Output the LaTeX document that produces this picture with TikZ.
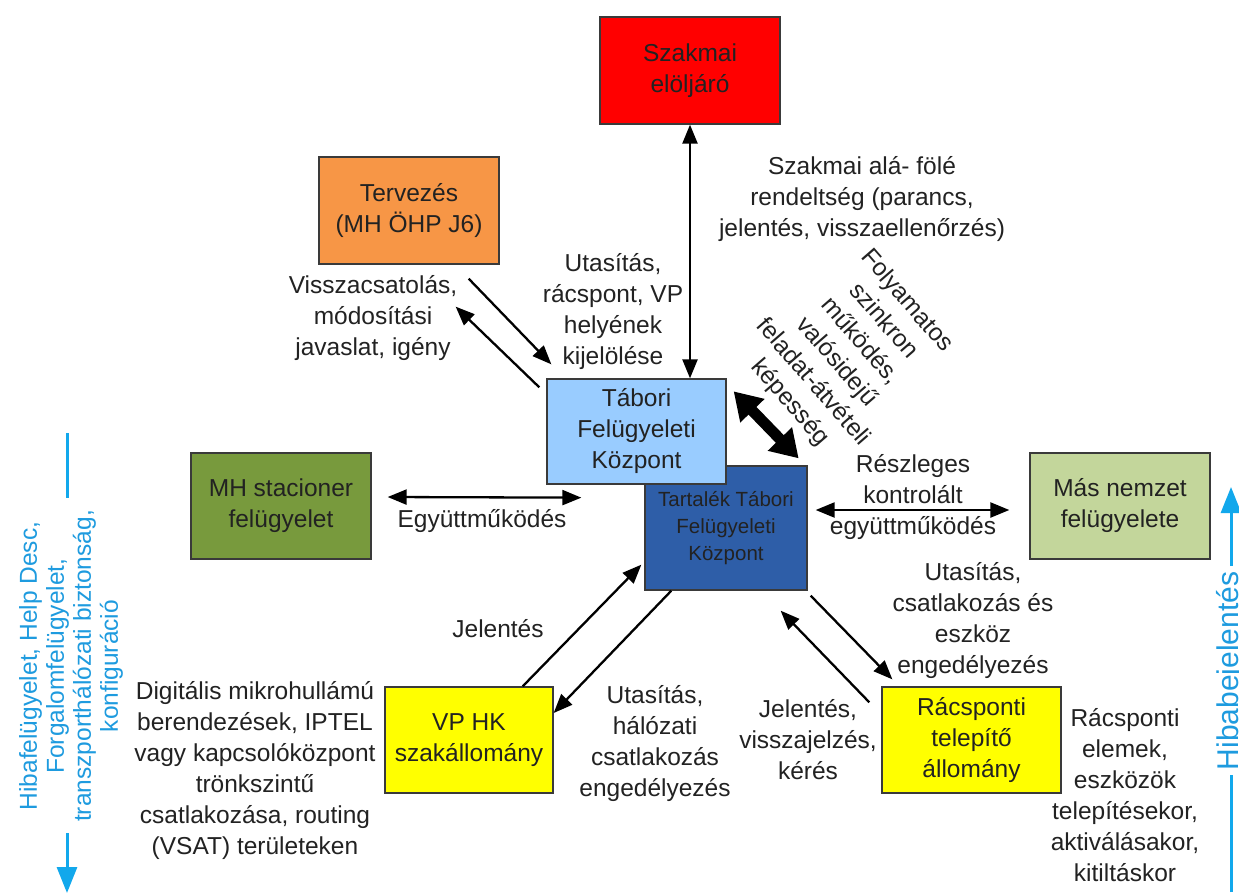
\documentclass[tikz,border=0pt]{standalone}
\usepackage{fontspec}
\setmainfont{Liberation Sans}
\usetikzlibrary{arrows.meta,calc}
\definecolor{ink}{HTML}{222222}
\definecolor{edge}{HTML}{3A3A3A}
\definecolor{cred}{HTML}{FF0000}
\definecolor{corange}{HTML}{F79646}
\definecolor{clight}{HTML}{99CCFF}
\definecolor{cdark}{HTML}{2E5EA8}
\definecolor{colive}{HTML}{789A3D}
\definecolor{cpale}{HTML}{C3D69B}
\definecolor{cyellow}{HTML}{FFFF00}
\definecolor{cyan}{HTML}{12A8EC}
\definecolor{cyantext}{HTML}{1E9BDF}
\tikzset{
  txt/.style={align=center, inner sep=0pt, text=ink, font=\fontsize{24.5}{31}\selectfont},
  box/.style={txt, draw=edge, line width=1.3pt},
  arr/.style={line width=2.3pt, -{Triangle[length=19pt,width=15pt]}},
  darr/.style={line width=2.3pt, {Triangle[length=19pt,width=15pt]}-{Triangle[length=19pt,width=15pt]}},
  bigdarr/.style={line width=11pt, {Triangle[length=27pt,width=32pt]}-{Triangle[length=27pt,width=32pt]}},
  blueline/.style={draw=cyan, line width=3pt},
  bluearr/.style={blueline, -{Triangle[length=26pt,width=20pt]}},
  bluetxt/.style={align=center, inner sep=0pt, text=cyantext}
}
\begin{document}
\begin{tikzpicture}[x=1pt,y=-1pt]
\fill[white] (0,0) rectangle (1239,892);
\useasboundingbox (0,0) rectangle (1239,892);

% boxes (the reserve centre lies beneath the main one)
\node[box, fill=cdark, minimum width=162pt, minimum height=124pt,
      font=\fontsize{20.5}{27}\selectfont] (tartalek) at (726,528)
      {Tartalék Tábori\\Felügyeleti\\Központ};
\node[box, fill=clight, minimum width=179pt, minimum height=105pt] (tabori) at (636.5,431.5)
      {Tábori\\Felügyeleti\\Központ};
\node[box, fill=cred, minimum width=180pt, minimum height=107pt] (red) at (690,70.5)
      {Szakmai\\elöljáró};
\node[box, fill=corange, minimum width=180pt, minimum height=107pt] (terv) at (409,210.5)
      {Tervezés\\(MH ÖHP J6)};
\node[box, fill=colive, minimum width=180pt, minimum height=106pt] (mh) at (281,506)
      {MH stacioner\\felügyelet};
\node[box, fill=cpale, minimum width=180pt, minimum height=106pt] (mas) at (1120,506)
      {Más nemzet\\felügyelete};
\node[box, fill=cyellow, minimum width=168pt, minimum height=106pt] (vphk) at (469,740)
      {VP HK\\szakállomány};
\node[box, fill=cyellow, minimum width=179pt, minimum height=106pt] (racs) at (971.5,740)
      {Rácsponti\\telepítő\\állomány};

% labels
\node[txt] (lsz) at (862,199) {Szakmai alá- fölé\\rendeltség (parancs,\\jelentés, visszaellenőrzés)};
\node[txt] (lvissza) at (373,318) {Visszacsatolás,\\módosítási\\javaslat, igény};
\node[txt] (lutas) at (613,312) {Utasítás,\\rácspont, VP\\helyének\\kijelölése};
\node[txt, rotate=-49] (lfoly) at (848,352) {Folyamatos\\szinkron\\működés,\\valósidejű\\feladat-átvételi\\képesség};
\node[txt] (legy) at (482,521) {Együttműködés};
\node[txt] (lresz) at (913,497) {Részleges\\kontrolált\\együttműködés};
\node[txt] (ljel) at (498,629) {Jelentés};
\node[txt] (ldig) at (255,771) {Digitális mikrohullámú\\berendezések, IPTEL\\vagy kapcsolóközpont\\trönkszintű\\csatlakozása, routing\\(VSAT) területeken};
\node[txt] (lhal) at (655,744) {Utasítás,\\hálózati\\csatlakozás\\engedélyezés};
\node[txt] (lcsat) at (973,621) {Utasítás,\\csatlakozás és\\eszköz\\engedélyezés};
\node[txt] (ljel2) at (808,740) {Jelentés,\\visszajelzés,\\kérés};
\node[txt] (lelem) at (1125,795) {Rácsponti\\elemek,\\eszközök\\telepítésekor,\\aktiválásakor,\\kitiltáskor};

% connectors
\draw[darr] (red.south) -- (red.south |- tabori.north);
\draw[arr] ($(terv.south east)+(-31,14)$) -- ($(tabori.north west)+(5,-14)$);
\draw[arr] ($(tabori.north west)+(-7,9)$) -- ($(terv.south east)+(-44,42)$);
\draw[bigdarr] ($(tabori.north east)+(7,13)$) -- ($(tartalek.north east)+(-9,-7)$);
\draw[darr] ($(mh.east)+(16,-9)$) -- ($(tabori.south west)+(35,13)$);
\draw[darr] ($(tartalek.east)+(8,-18)$) -- ($(mas.west)+(-20,4)$);
\draw[arr] ($(vphk.north east)+(-31,0)$) -- ($(tartalek.south west)+(-3,-26)$);
\draw[arr] ($(tartalek.south west)+(27,0)$) -- ($(vphk.east)+(0,-27)$);
\draw[arr] ($(tartalek.south east)+(3,5)$) -- ($(racs.north west)+(11,-7)$);
\draw[arr] ($(racs.north west)+(-12,16)$) -- ($(tartalek.south east)+(-27,20)$);

% side flows
\node[bluetxt, rotate=90, font=\fontsize{24.5}{27}\selectfont] (lhiba) at (71,666)
  {Hibafelügyelet, Help Desc,\\Forgalomfelügyelet,\\transzporthálózati biztonság,\\konfiguráció};
\coordinate (la) at (67,433);
\coordinate (lb) at (67,498);
\coordinate (lc) at (67,833);
\coordinate (ld) at (67,893);
\draw[blueline] (la) -- (lb);
\draw[bluearr] (lc) -- (ld);

\node[bluetxt, rotate=90, font=\fontsize{30}{31}\selectfont] (lhibab) at (1231,671) {Hibabejelentés};
\coordinate (ra) at (1231,892);
\coordinate (rb) at (1231,775);
\coordinate (rc) at (1231,566);
\coordinate (rd) at (1231,487);
\draw[blueline] (ra) -- (rb);
\draw[bluearr] (rc) -- (rd);
\end{tikzpicture}
\end{document}
